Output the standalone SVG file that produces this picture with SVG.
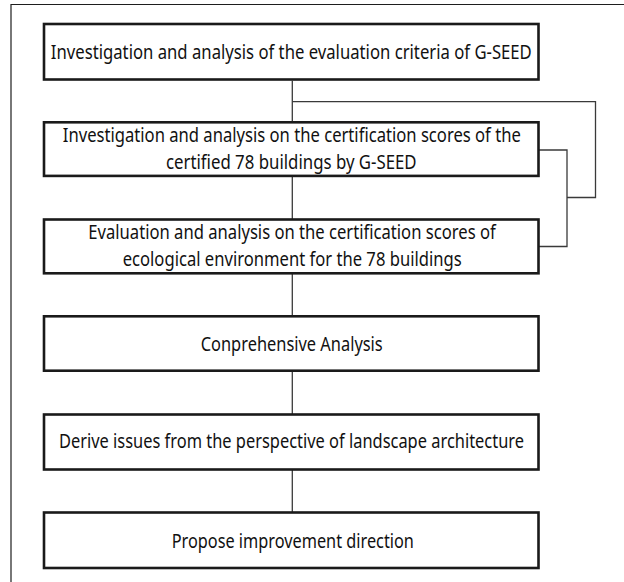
<svg xmlns="http://www.w3.org/2000/svg" width="624" height="582" viewBox="0 0 624 582">
<style>
.box{fill:#fff;stroke:#1a1a1a;stroke-width:2.6}
.lbl{font-family:"Noto Sans","Liberation Sans",Arial,sans-serif;font-size:20px;fill:#111;text-anchor:middle}
.con{fill:none;stroke:#3a3a3a;stroke-width:1.3}
.frame{fill:none;stroke:#1e1e1e;stroke-width:1.2}
</style>
<rect width="624" height="582" fill="#fff"/>
<path class="frame" d="M11,582 V4.5 H624"/>
<g id="connectors">
<path class="con" d="M292.3,80.7 V316.3"/>
<path class="con" d="M292.3,370 V414.5"/>
<path class="con" d="M292.3,469 V512.5"/>
<path class="con" d="M292.3,101.7 H595.5 V197.5 H567"/>
<path class="con" d="M538.5,150 H567 V246.5 H538.5"/>
</g>
<g id="n1">
<rect class="box" x="44" y="24" width="494.5" height="55.5"/>
<text class="lbl" x="291.3" y="59.3" textLength="481" lengthAdjust="spacingAndGlyphs">Investigation and analysis of the evaluation criteria of G-SEED</text>
</g>
<g id="n2">
<rect class="box" x="44" y="122.3" width="494.5" height="53.6"/>
<text class="lbl" x="291.8" y="142.3" textLength="458" lengthAdjust="spacingAndGlyphs">Investigation and analysis on the certification scores of the</text>
<text class="lbl" x="291.3" y="169.3" textLength="250.7" lengthAdjust="spacingAndGlyphs">certified 78 buildings by G-SEED</text>
</g>
<g id="n3">
<rect class="box" x="44" y="219.5" width="494.5" height="53.8"/>
<text class="lbl" x="292" y="239" textLength="407.4" lengthAdjust="spacingAndGlyphs">Evaluation and analysis on the certification scores of</text>
<text class="lbl" x="292.2" y="265.7" textLength="339" lengthAdjust="spacingAndGlyphs">ecological environment for the 78 buildings</text>
</g>
<g id="n4">
<rect class="box" x="44" y="316.3" width="494.5" height="54.4"/>
<text class="lbl" x="291.7" y="351" textLength="182" lengthAdjust="spacingAndGlyphs">Conprehensive Analysis</text>
</g>
<g id="n5">
<rect class="box" x="44" y="414.5" width="494.5" height="55"/>
<text class="lbl" x="291.5" y="448.3" textLength="465" lengthAdjust="spacingAndGlyphs">Derive issues from the perspective of landscape architecture</text>
</g>
<g id="n6">
<rect class="box" x="44" y="512.5" width="494.5" height="55.5"/>
<text class="lbl" x="292.8" y="548.3" textLength="242.3" lengthAdjust="spacingAndGlyphs">Propose improvement direction</text>
</g>
</svg>
